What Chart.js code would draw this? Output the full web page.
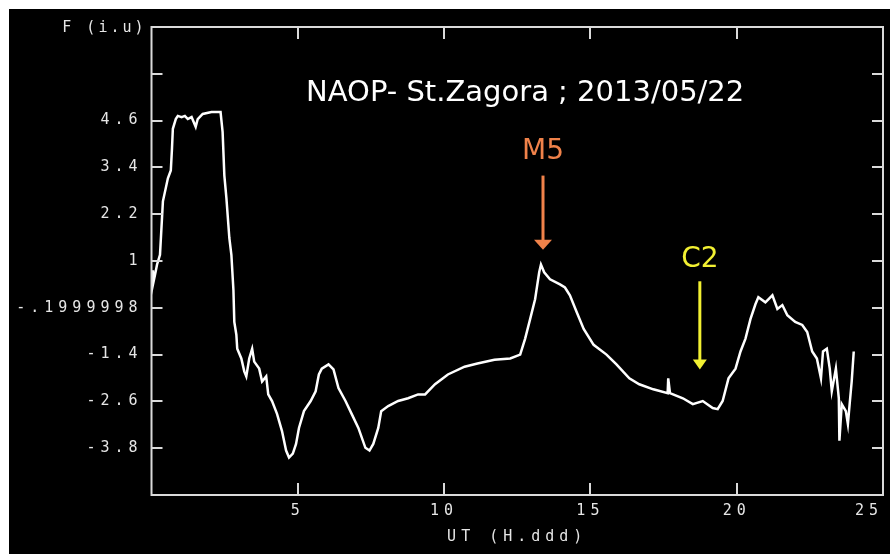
<!DOCTYPE html>
<html>
<head>
<meta charset="utf-8">
<script src="https://cdn.jsdelivr.net/npm/chart.js@4.4.0/dist/chart.umd.min.js"></script>
<style>
    html, body { margin: 0; padding: 0; background: #fff; }
    #wrap { position: absolute; left: 9px; top: 9px; width: 881px; height: 545px; background: #000; }
</style>
</head>
<body>
<div id="wrap"><canvas id="fluxChart"></canvas></div>
<script>
// flux readings, UT in decimal hours
let utHours = [
    0.02, 0.05, 0.12, 0.19, 0.29, 0.39, 0.56, 0.66, 0.70, 0.73,
    0.83, 0.90, 1.03, 1.14, 1.24, 1.37, 1.51, 1.58, 1.75, 2.05,
    2.36, 2.43, 2.49, 2.56, 2.66, 2.73, 2.80, 2.83, 2.90, 2.93,
    3.07, 3.17, 3.24, 3.34, 3.44, 3.51, 3.68, 3.78, 3.92, 3.99,
    4.12, 4.29, 4.46, 4.60, 4.70, 4.83, 4.94, 5.04, 5.21, 5.44,
    5.61, 5.72, 5.82, 6.05, 6.22, 6.39, 6.63, 6.84, 7.07, 7.31,
    7.45, 7.58, 7.75, 7.85, 8.09, 8.43, 8.77, 9.11, 9.35, 9.69,
    10.13, 10.70, 11.14, 11.72, 12.26, 12.60, 12.77, 12.94, 13.11, 13.25,
    13.31, 13.42, 13.62, 13.96, 14.13, 14.30, 14.53, 14.77, 15.11, 15.55,
    15.89, 16.33, 16.67, 17.15, 17.64, 17.66, 17.72, 18.16, 18.50, 18.84,
    19.18, 19.35, 19.52, 19.72, 19.96, 20.13, 20.30, 20.47, 20.64, 20.74,
    20.98, 21.22, 21.39, 21.56, 21.73, 22.00, 22.24, 22.41, 22.58, 22.74,
    22.88, 22.95, 23.08, 23.18, 23.25, 23.39, 23.49, 23.51, 23.59, 23.73,
    23.80, 23.86, 23.93, 24.00
]
let flux = [
    0.76, 0.40, 0.65, 0.91, 1.16, 2.53, 3.12, 3.32, 3.88, 4.39,
    4.64, 4.72, 4.69, 4.72, 4.64, 4.69, 4.44, 4.64, 4.77, 4.82,
    4.82, 4.31, 3.19, 2.61, 1.59, 1.16, 0.25, -0.56, -0.89, -1.25,
    -1.50, -1.83, -1.96, -1.50, -1.25, -1.58, -1.76, -2.09, -1.96, -2.42,
    -2.59, -2.92, -3.36, -3.86, -4.04, -3.94, -3.69, -3.28, -2.85, -2.59,
    -2.34, -1.91, -1.76, -1.65, -1.78, -2.26, -2.59, -2.92, -3.28, -3.79,
    -3.86, -3.69, -3.28, -2.85, -2.72, -2.59, -2.52, -2.42, -2.42, -2.16,
    -1.91, -1.71, -1.63, -1.53, -1.50, -1.40, -0.99, -0.49, 0.02, 0.71,
    0.91, 0.71, 0.53, 0.40, 0.32, 0.12, -0.31, -0.74, -1.15, -1.40,
    -1.65, -2.01, -2.16, -2.29, -2.39, -2.01, -2.39, -2.52, -2.67, -2.59,
    -2.77, -2.80, -2.59, -2.01, -1.76, -1.32, -0.99, -0.49, -0.11, 0.07,
    -0.06, 0.12, -0.23, -0.13, -0.39, -0.56, -0.64, -0.82, -1.32, -1.50,
    -2.01, -1.32, -1.25, -1.76, -2.34, -1.76, -2.52, -3.61, -2.67, -2.85,
    -3.18, -2.67, -2.09, -1.32
]

let xTicks = [0, 5, 10, 15, 20, 25]
let xTickLabels = ['', '5', '10', '15', '20', '25']
let yTicks = [5.8, 4.6, 3.4, 2.2, 1, -0.2, -1.4, -2.6, -3.8]
let yTickLabels = ['', '4.6', '3.4', '2.2', '1', '-.1999998', '-1.4', '-2.6', '-3.8']

// flare events marked with arrows
let events = ['M5', 'C2']
let eventTimes = [13.38, 18.74]

const pixelFont = '"DejaVu Sans Mono", monospace'
const eventStyle = [
    { color: '#f0824a', labelY: 3.80, topY: 3.19, tipY: 1.29, headW: 9 },
    { color: '#f2f032', labelY: 1.04, topY: 0.48, tipY: -1.78, headW: 7 }
]

const frameAndNotes = {
    id: 'frameAndNotes',
    beforeDraw(chart) {
        chart.ctx.letterSpacing = '5px'
    },
    afterDraw(chart) {
        const ctx = chart.ctx
        const area = chart.chartArea
        const xs = chart.scales.x
        const ys = chart.scales.y

        ctx.save()
        // box with inward ticks on all four sides
        ctx.strokeStyle = '#dadada'
        ctx.lineWidth = 2
        ctx.strokeRect(area.left, area.top, area.right - area.left, area.bottom - area.top)
        ctx.beginPath()
        xTicks.forEach(v => {
            if (v <= xs.min || v >= xs.max) return
            const px = Math.round(xs.getPixelForValue(v))
            ctx.moveTo(px, area.bottom); ctx.lineTo(px, area.bottom - 12)
            ctx.moveTo(px, area.top); ctx.lineTo(px, area.top + 12)
        })
        yTicks.forEach(v => {
            const py = Math.round(ys.getPixelForValue(v))
            ctx.moveTo(area.left, py); ctx.lineTo(area.left + 11, py)
            ctx.moveTo(area.right, py); ctx.lineTo(area.right - 11, py)
        })
        ctx.stroke()

        // y axis name at top left
        ctx.letterSpacing = '3px'
        ctx.fillStyle = '#e6e6e6'
        ctx.font = '15px ' + pixelFont
        ctx.textAlign = 'right'
        ctx.textBaseline = 'middle'
        ctx.fillText('F (i.u)', area.left - 5, area.top + 1)

        // title inside the plot
        ctx.letterSpacing = '0px'
        ctx.fillStyle = '#ffffff'
        ctx.font = '29px "DejaVu Sans"'
        ctx.textAlign = 'center'
        ctx.fillText('NAOP- St.Zagora ; 2013/05/22', xs.getPixelForValue(12.77), ys.getPixelForValue(5.3))

        // flare arrows
        events.forEach((name, i) => {
            const st = eventStyle[i]
            const px = xs.getPixelForValue(eventTimes[i])
            const top = ys.getPixelForValue(st.topY)
            const tip = ys.getPixelForValue(st.tipY)
            ctx.fillStyle = st.color
            ctx.strokeStyle = st.color
            ctx.font = '28px "DejaVu Sans"'
            ctx.fillText(name, px, ys.getPixelForValue(st.labelY))
            ctx.lineWidth = 3
            ctx.beginPath()
            ctx.moveTo(px, top)
            ctx.lineTo(px, tip - 8)
            ctx.stroke()
            ctx.beginPath()
            ctx.moveTo(px - st.headW, tip - 10)
            ctx.lineTo(px + st.headW, tip - 10)
            ctx.lineTo(px, tip)
            ctx.closePath()
            ctx.fill()
        })
        ctx.restore()
    }
}

let points = utHours.map((t, i) => ({ x: t, y: flux[i] }))

let ctx = document.getElementById('fluxChart').getContext('2d')
let fluxChart = new Chart(ctx, {
    type: 'line',
    data: {
        datasets: [{
            label: 'flux',
            data: points,
            borderColor: '#ffffff',
            borderWidth: 2.5,
            pointRadius: 0,
            tension: 0
        }]
    },
    options: {
        responsive: true,
        maintainAspectRatio: false,
        animation: false,
        layout: { padding: { top: 13, right: 2, left: 0, bottom: 0 } },
        plugins: {
            legend: { display: false },
            tooltip: { enabled: false }
        },
        scales: {
            x: {
                type: 'linear',
                min: 0,
                max: 25,
                grid: { display: false, drawTicks: false },
                border: { display: false },
                afterBuildTicks: scale => { scale.ticks = xTicks.map(v => ({ value: v })) },
                afterFit: scale => { scale.height = 59 },
                ticks: {
                    autoSkip: false,
                    maxRotation: 0,
                    align: 'inner',
                    padding: 7,
                    color: '#e6e6e6',
                    font: { family: pixelFont, size: 15 },
                    callback: (value, index) => xTickLabels[index]
                },
                title: {
                    display: true,
                    text: 'UT (H.ddd)',
                    color: '#e6e6e6',
                    font: { family: pixelFont, size: 15 },
                    padding: { top: 0, bottom: 8 }
                }
            },
            y: {
                min: -5,
                max: 7,
                grid: { display: false, drawTicks: false },
                border: { display: false },
                afterBuildTicks: scale => { scale.ticks = yTicks.map(v => ({ value: v })) },
                afterFit: scale => { scale.width = 142.5 },
                ticks: {
                    autoSkip: false,
                    padding: 9,
                    color: '#e6e6e6',
                    font: { family: pixelFont, size: 15 },
                    callback: (value, index) => yTickLabels[index]
                }
            }
        }
    },
    plugins: [frameAndNotes]
})
</script>
</body>
</html>
